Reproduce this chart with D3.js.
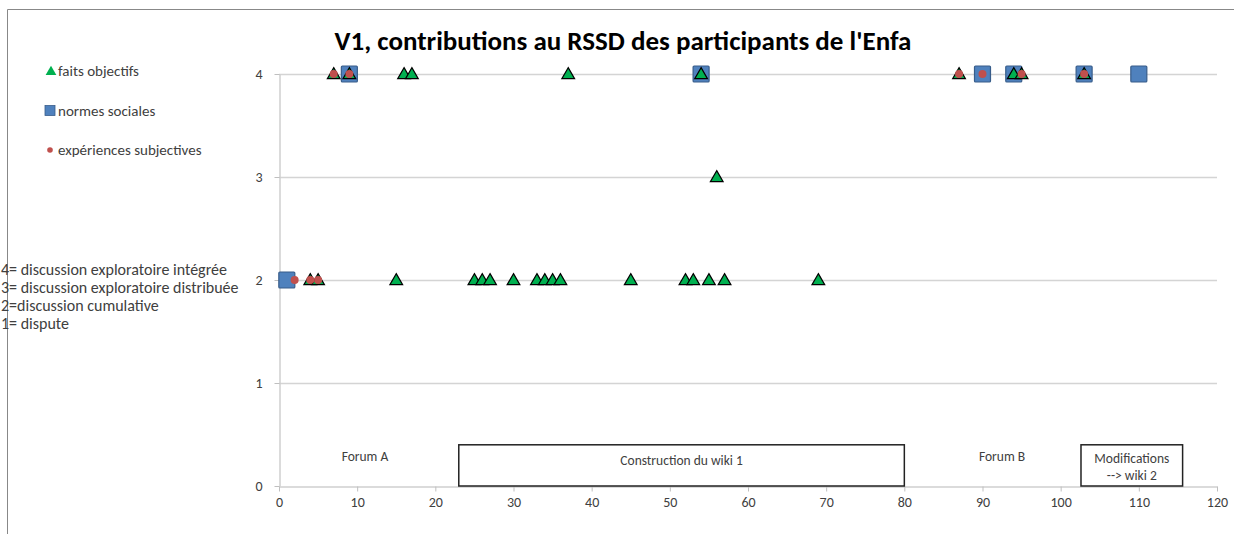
<!DOCTYPE html>
<html>
<head>
<meta charset="utf-8">
<script src="https://cdn.jsdelivr.net/npm/d3@7"></script>
<style>
  body { margin: 0; background: #fff; }
  svg { display: block; font-family: Carlito, "Open Sans", "Liberation Sans", sans-serif; }
</style>
</head>
<body>
<svg id="chart" width="1234" height="534"></svg>
<script>
// faits objectifs (triangles vert)
var faitsX = [7, 9, 16, 17, 37, 54, 87, 94, 95, 103, 56, 4, 5, 15, 25, 26, 27, 30, 33, 34, 35, 36, 45, 52, 53, 55, 57, 69];
var faitsY = [4, 4, 4, 4, 4, 4, 4, 4, 4, 4, 3, 2, 2, 2, 2, 2, 2, 2, 2, 2, 2, 2, 2, 2, 2, 2, 2, 2];
// normes sociales (carrés bleus)
var normesX = [9, 54, 90, 94, 103, 110, 1];
var normesY = [4, 4, 4, 4, 4, 4, 2];
// expériences subjectives (points rouges)
var experX = [7, 9, 87, 90, 95, 103, 2, 4, 5];
var experY = [4, 4, 4, 4, 4, 4, 2, 2, 2];

var xTicks = [0, 10, 20, 30, 40, 50, 60, 70, 80, 90, 100, 110, 120];
var yTicks = [0, 1, 2, 3, 4];
var legendNames = ['faits objectifs', 'normes sociales', 'expériences subjectives'];
var codeLines = ['4= discussion exploratoire intégrée', '3= discussion exploratoire distribuée',
    '2=discussion cumulative', '1= dispute'];
// phases du dispositif (début, fin sur l'axe x)
var phases = [
    { name: ['Forum A'], x0: 11, x1: 11, box: false },
    { name: ['Construction du wiki 1'], x0: 23, x1: 80, box: true },
    { name: ['Forum B'], x0: 92.5, x1: 92.5, box: false },
    { name: ['Modifications', '--> wiki 2'], x0: 102.6, x1: 115.6, box: true }
];

var svg = d3.select('#chart');
var x = d3.scaleLinear().domain([0, 120]).range([279, 1217]);
var y = d3.scaleLinear().domain([0, 4]).range([486, 74]);
var textColor = '#404040';
var font = 'Carlito, "Open Sans", "Liberation Sans", sans-serif';

// cadre
svg.append('path')
    .attr('d', 'M7.5 534 L7.5 9.5 L1234 9.5')
    .attr('stroke', '#888').attr('fill', 'none');

// titre
svg.append('text')
    .attr('x', 623).attr('y', 50)
    .attr('text-anchor', 'middle')
    .attr('font-size', 27).attr('font-weight', 'bold')
    .attr('fill', '#000')
    .text("V1, contributions au RSSD des participants de l'Enfa");

// grille
svg.append('g').selectAll('line')
    .data(yTicks.filter(function (d) { return d > 0; }))
    .enter().append('line')
    .attr('x1', x(0)).attr('x2', x(120))
    .attr('y1', function (d) { return y(d) + 0.5; })
    .attr('y2', function (d) { return y(d) + 0.5; })
    .attr('stroke', '#d4d4d4').attr('stroke-width', 1.5);

// axes
var xAxis = svg.append('g')
    .attr('transform', 'translate(0,' + (y(0) + 0.5) + ')')
    .call(d3.axisBottom(x).tickValues(xTicks).tickSize(5).tickSizeOuter(0).tickPadding(6));
var yAxis = svg.append('g')
    .attr('transform', 'translate(' + (x(0) + 0.5) + ',0)')
    .call(d3.axisLeft(y).tickValues(yTicks).tickFormat(d3.format('d'))
        .tickSize(5).tickSizeOuter(0).tickPadding(12));
[xAxis, yAxis].forEach(function (a) {
    a.select('.domain').attr('stroke', '#cfcfcf').attr('stroke-width', 1.5);
    a.selectAll('.tick line').attr('stroke', '#bfbfbf');
    a.selectAll('.tick text').attr('fill', textColor).attr('font-size', 14)
        .attr('font-family', font);
});

// phases
var ph = svg.append('g');
phases.forEach(function (p) {
    var cx = (x(p.x0) + x(p.x1)) / 2;
    if (p.box) {
        ph.append('rect')
            .attr('x', x(p.x0)).attr('y', y(0.4))
            .attr('width', x(p.x1) - x(p.x0)).attr('height', y(0) - y(0.4))
            .attr('fill', '#fff').attr('stroke', '#222').attr('stroke-width', 1.5);
    }
    var top = p.box ? (p.name.length > 1 ? y(0.4) + 18 : y(0.4) + 20) : y(0.4) + 16;
    p.name.forEach(function (t, i) {
        ph.append('text')
            .attr('x', cx).attr('y', top + i * 17)
            .attr('text-anchor', 'middle')
            .attr('font-size', 13.5).attr('fill', textColor)
            .text(t);
    });
});

// séries: carrés, puis triangles, puis points
var tri = d3.symbol().type(d3.symbolTriangle).size(70);
svg.append('g').selectAll('rect')
    .data(normesX).enter().append('rect')
    .attr('x', function (d) { return x(d) - 8; })
    .attr('y', function (d, i) { return y(normesY[i]) - 8; })
    .attr('width', 16).attr('height', 16).attr('rx', 1)
    .attr('fill', '#4f81bd').attr('stroke', '#385d8a').attr('stroke-width', 1.2);

svg.append('g').selectAll('path')
    .data(faitsX).enter().append('path')
    .attr('d', tri)
    .attr('transform', function (d, i) { return 'translate(' + x(d) + ',' + (y(faitsY[i]) + 1) + ')'; })
    .attr('fill', '#00b050').attr('stroke', '#000').attr('stroke-width', 1.2);

svg.append('g').selectAll('circle')
    .data(experX).enter().append('circle')
    .attr('cx', function (d) { return x(d); })
    .attr('cy', function (d, i) { return y(experY[i]); })
    .attr('r', 4)
    .attr('fill', '#c0504d');

// légende
var leg = svg.append('g');
legendNames.forEach(function (n, i) {
    var ly = 71 + i * 39.5;
    if (i === 0) {
        leg.append('path').attr('d', d3.symbol().type(d3.symbolTriangle).size(50))
            .attr('transform', 'translate(51,' + (ly + 1) + ')')
            .attr('fill', '#00b050');
    } else if (i === 1) {
        leg.append('rect').attr('x', 45).attr('y', ly - 5).attr('width', 10).attr('height', 10)
            .attr('fill', '#4f81bd').attr('stroke', '#385d8a').attr('stroke-width', 0.8);
    } else {
        leg.append('circle').attr('cx', 50).attr('cy', ly).attr('r', 2.8).attr('fill', '#c0504d');
    }
    leg.append('text')
        .attr('x', 58).attr('y', ly + 5)
        .attr('font-size', 15).attr('fill', textColor)
        .text(n);
});

// codes
svg.append('g').selectAll('text')
    .data(codeLines).enter().append('text')
    .attr('x', 1)
    .attr('y', function (d, i) { return 275 + i * 18; })
    .attr('font-size', 16).attr('fill', textColor)
    .text(function (d) { return d; });
</script>
</body>
</html>
